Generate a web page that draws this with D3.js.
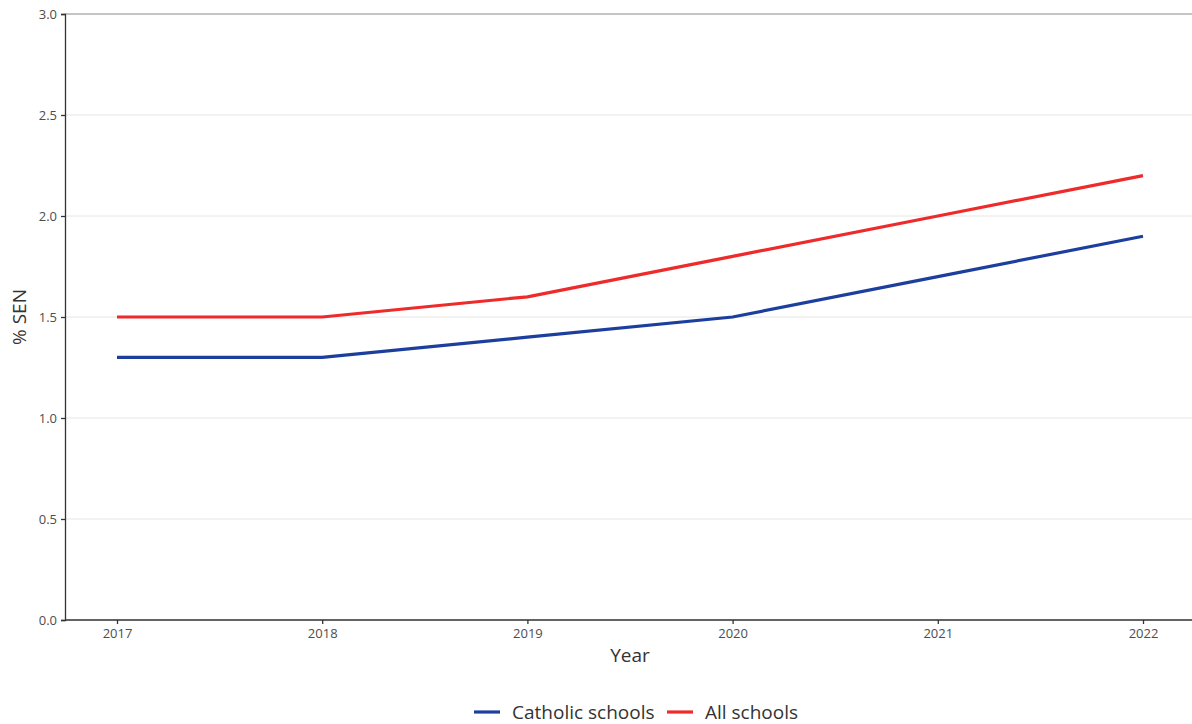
<!DOCTYPE html>
<html><head><meta charset="utf-8">
<script src="https://cdn.jsdelivr.net/npm/d3@7"></script>
<style>body{margin:0;background:#fff;}svg{display:block;font-family:"Open Sans",sans-serif;}</style>
</head><body><svg id="c" width="1192" height="724"></svg>
<script>
const years = [2017, 2018, 2019, 2020, 2021, 2022];
const catholic = [1.3, 1.3, 1.4, 1.5, 1.7, 1.9];
const allSchools = [1.5, 1.5, 1.6, 1.8, 2.0, 2.2];
const yTicks = [0.0, 0.5, 1.0, 1.5, 2.0, 2.5, 3.0];
const seriesNames = ["Catholic schools", "All schools"];
const seriesColors = ["#1c3f9e", "#ee2a2a"];

const svg = d3.select("#c");
const L = 65, R = 1192, T = 14, B = 620;
const x = d3.scaleLinear().domain([2017, 2022]).range([117, 1143]);
const y = d3.scaleLinear().domain([0, 3]).range([B, T]);

// grid
svg.append("g").selectAll("line").data(yTicks).join("line")
  .attr("x1", L).attr("x2", R).attr("y1", d => y(d)).attr("y2", d => y(d))
  .attr("stroke", d => d === 3 ? "#8a8a8a" : "#e6e6e6").attr("stroke-width", 1);

// axes
const yAxis = svg.append("g").attr("transform", `translate(${L},0)`)
  .call(d3.axisLeft(y).tickValues(yTicks).tickFormat(d3.format(".1f")).tickSize(4).tickPadding(4));
const xAxis = svg.append("g").attr("transform", `translate(0,${B})`)
  .call(d3.axisBottom(x).tickValues(years).tickFormat(d3.format("d")).tickSize(4).tickPadding(5));
[yAxis, xAxis].forEach(a => {
  a.select(".domain").attr("stroke", "#333").attr("stroke-width", 1.3);
  a.selectAll(".tick line").attr("stroke", "#333").attr("stroke-width", 1.3);
  a.selectAll("text").attr("fill", "#4d4d4d").attr("font-size", 13).attr("font-family", "Open Sans, sans-serif");
});
xAxis.select(".domain").attr("d", `M${L},0H${R}`);

// titles
svg.append("text").attr("x", 630).attr("y", 662).attr("text-anchor", "middle")
  .attr("font-size", 19).attr("fill", "#333").text("Year");
svg.append("text").attr("transform", `translate(26,317) rotate(-90)`).attr("text-anchor", "middle")
  .attr("font-size", 19).attr("fill", "#333").text("% SEN");

// lines
const line = d3.line().x((d, i) => x(years[i])).y(d => y(d));
[catholic, allSchools].forEach((s, k) => {
  svg.append("path").datum(s).attr("d", line).attr("fill", "none")
    .attr("stroke", seriesColors[k]).attr("stroke-width", 3.2);
});

// legend
const lg = svg.append("g");
const legX = [474, 667];
seriesNames.forEach((n, k) => {
  lg.append("line").attr("x1", legX[k]).attr("x2", legX[k] + 26).attr("y1", 712).attr("y2", 712)
    .attr("stroke", seriesColors[k]).attr("stroke-width", 3.2);
  lg.append("text").attr("x", legX[k] + 38).attr("y", 719).attr("font-size", 19).attr("fill", "#333").text(n);
});
</script></body></html>
